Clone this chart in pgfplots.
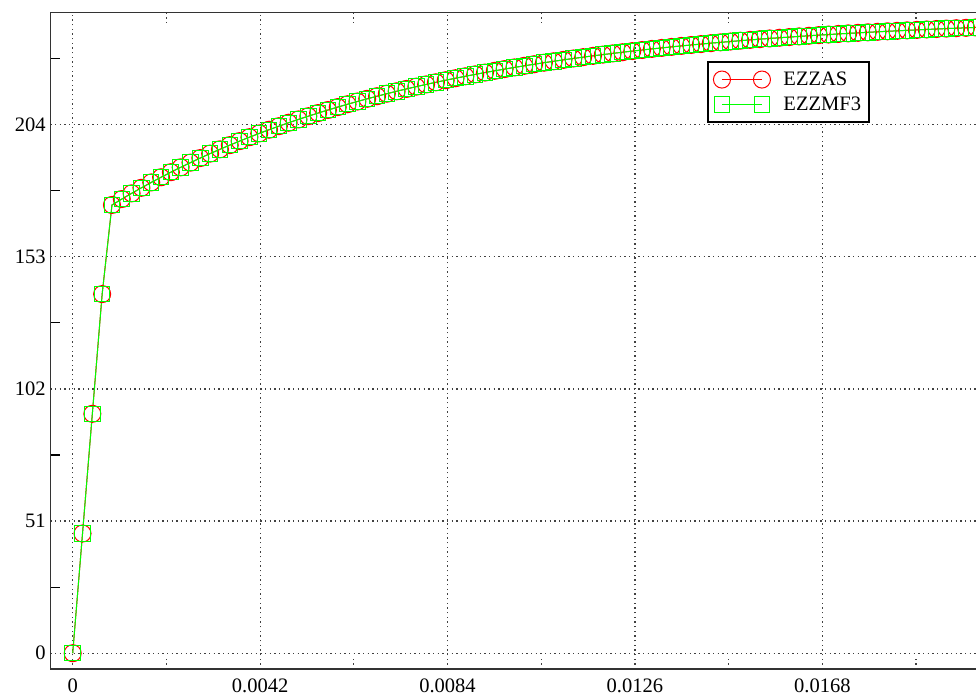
\documentclass[border=0pt]{standalone}
\usepackage{fontspec}
\setmainfont{Liberation Serif}
\usepackage{pgfplots}
\usepackage{pgfplotstable}
\pgfplotsset{compat=1.18}
\definecolor{gnured}{RGB}{255,0,0}
\definecolor{gnugreen}{RGB}{0,255,0}

\pgfplotstableread{
x y
0 0
0.00022 46.2
0.00044 92.4
0.00066 138.6
0.00088 173.00
0.0011 175.28
0.00132 177.48
0.00154 179.62
0.00176 181.69
0.00198 183.69
0.0022 185.64
0.00242 187.52
0.00264 189.34
0.00286 191.11
0.00308 192.82
0.0033 194.48
0.00352 196.09
0.00374 197.64
0.00396 199.15
0.00418 200.61
0.0044 202.03
0.00462 203.40
0.00484 204.73
0.00506 206.01
0.00528 207.26
0.0055 208.47
0.00572 209.64
0.00594 210.77
0.00616 211.87
0.00638 212.93
0.0066 213.97
0.00682 214.96
0.00704 215.93
0.00726 216.87
0.00748 217.78
0.0077 218.66
0.00792 219.51
0.00814 220.34
0.00836 221.14
0.00858 221.91
0.0088 222.66
0.00902 223.39
0.00924 224.10
0.00946 224.78
0.00968 225.44
0.0099 226.08
0.01012 226.70
0.01034 227.30
0.01056 227.89
0.01078 228.45
0.011 229.00
0.01122 229.53
0.01144 230.04
0.01166 230.54
0.01188 231.02
0.0121 231.49
0.01232 231.94
0.01254 232.38
0.01276 232.80
0.01298 233.22
0.0132 233.61
0.01342 234.00
0.01364 234.38
0.01386 234.74
0.01408 235.09
0.0143 235.43
0.01452 235.76
0.01474 236.08
0.01496 236.39
0.01518 236.69
0.0154 236.98
0.01562 237.26
0.01584 237.53
0.01606 237.79
0.01628 238.05
0.0165 238.30
0.01672 238.54
0.01694 238.77
0.01716 239.00
0.01738 239.22
0.0176 239.43
0.01782 239.63
0.01804 239.83
0.01826 240.02
0.01848 240.21
0.0187 240.39
0.01892 240.56
0.01914 240.73
0.01936 240.90
0.01958 241.06
0.0198 241.21
0.02002 241.36
0.02024 241.51
}\dataAS

\pgfplotstableread{
x y
0 0
0.00022 46.2
0.00044 92.4
0.00066 138.6
0.00088 173.00
0.0011 175.28
0.00132 177.48
0.00154 179.62
0.00176 181.69
0.00198 183.69
0.0022 185.64
0.00242 187.52
0.00264 189.34
0.00286 191.11
0.00308 192.82
0.0033 194.48
0.00352 196.09
0.00374 197.64
0.00396 199.15
0.00418 200.61
0.0044 202.03
0.00462 203.40
0.00484 204.73
0.00506 206.01
0.00528 207.26
0.0055 208.47
0.00572 209.64
0.00594 210.77
0.00616 211.87
0.00638 212.93
0.0066 213.97
0.00682 214.96
0.00704 215.93
0.00726 216.87
0.00748 217.78
0.0077 218.66
0.00792 219.51
0.00814 220.34
0.00836 221.14
0.00858 221.91
0.0088 222.66
0.00902 223.39
0.00924 224.10
0.00946 224.78
0.00968 225.44
0.0099 226.08
0.01012 226.70
0.01034 227.30
0.01056 227.89
0.01078 228.45
0.011 229.00
0.01122 229.53
0.01144 230.04
0.01166 230.54
0.01188 231.02
0.0121 231.49
0.01232 231.94
0.01254 232.38
0.01276 232.80
0.01298 233.22
0.0132 233.61
0.01342 234.00
0.01364 234.38
0.01386 234.74
0.01408 235.09
0.0143 235.43
0.01452 235.76
0.01474 236.08
0.01496 236.39
0.01518 236.69
0.0154 236.98
0.01562 237.26
0.01584 237.53
0.01606 237.79
0.01628 238.05
0.0165 238.30
0.01672 238.54
0.01694 238.77
0.01716 239.00
0.01738 239.22
0.0176 239.43
0.01782 239.63
0.01804 239.83
0.01826 240.02
0.01848 240.21
0.0187 240.39
0.01892 240.56
0.01914 240.73
0.01936 240.90
0.01958 241.06
0.0198 241.21
0.02002 241.36
0.02024 241.51
}\dataMF

\begin{document}
\begin{tikzpicture}
\begin{axis}[
  name=ax,
  scale only axis,
  width=719.5pt, height=492.45pt,
  xmin=-0.0005, xmax=0.021,
  ymin=-6.2, ymax=247.2,
  scaled x ticks=false, scaled y ticks=false,
  /pgf/number format/assume math mode=true,
  xtick={0,0.0042,0.0084,0.0126,0.0168},
  xticklabels={{\mbox{0}},{\mbox{0.0042}},{\mbox{0.0084}},{\mbox{0.0126}},{\mbox{0.0168}}},
  minor xtick={0.0021,0.0063,0.0105,0.0147,0.0189},
  ytick={0,51,102,153,204},
  yticklabels={{\mbox{0}},{\mbox{51}},{\mbox{102}},{\mbox{153}},{\mbox{204}}},
  minor ytick={25.5,76.5,127.5,178.5,229.5},
  grid=major,
  major grid style={black!75, line width=0.9pt, dash pattern=on 0.9pt off 2.6pt},
  major tick length=0pt,
  minor tick length=7.5pt,
  every minor x tick/.append style={black!75, line width=0.9pt, dash pattern=on 0.9pt off 2.6pt},
  every minor y tick/.append style={black, line width=0.9pt},
  axis line style={black!80, line width=1.2pt},
  tick label style={font=\fontsize{15.4}{18}\selectfont},
  xticklabel style={yshift=-4pt},
  legend cell align=left,
  legend style={at={(0.6848,0.926)}, anchor=north west, draw=black, line width=1.1pt,
    fill=white, font=\fontsize{15.4}{18}\selectfont, inner xsep=4pt, inner ysep=5.3pt, row sep=3pt},
  legend image code/.code={\draw[#1] plot coordinates {(0pt,0pt) (30pt,0pt)};},
]
\addplot[gnured, line width=0.75pt, mark=o, mark size=6.4pt, mark options={solid, line width=0.75pt}]
  table[x=x, y=y]{\dataAS};
\addlegendentry{\hspace{7.75pt}EZZAS\hspace{-6.75pt}}
\addplot[gnugreen, line width=0.75pt, mark=square, mark size=5.8pt, mark options={solid, line width=0.75pt}]
  table[x=x, y=y]{\dataMF};
\addlegendentry{\hspace{7.75pt}EZZMF3\hspace{-6.75pt}}
\end{axis}
\pgfresetboundingbox
\path[use as bounding box] (ax.south west) ++(-37.8pt,-20.78pt) rectangle ++(732pt,522.75pt);
\end{tikzpicture}
\end{document}
